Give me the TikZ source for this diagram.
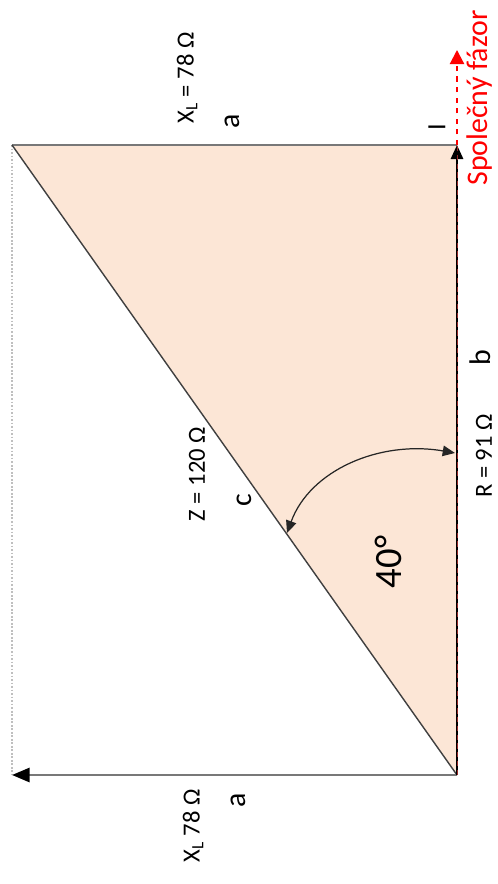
\documentclass[tikz,border=0pt]{standalone}
\usepackage{fontspec}
\setmainfont{Carlito}
\usetikzlibrary{arrows.meta}
\definecolor{peach}{RGB}{252,230,214}
\definecolor{edgegray}{RGB}{120,120,120}
\definecolor{darkred}{RGB}{150,40,40}
\tikzset{
  lbl/.style={rotate=90, inner sep=0pt, font=\fontsize{14}{16}\selectfont},
  letter/.style={rotate=90, inner sep=0pt, font=\fontsize{17}{19}\selectfont},
  tip/.style={-{Triangle[length=8pt,width=7pt]}},
}
\begin{document}
\begin{tikzpicture}[x=0.02cm,y=-0.02cm]
\useasboundingbox (0,0) rectangle (497,884);
\coordinate (A) at (12,145);
\coordinate (B) at (457,145);
\coordinate (C) at (457,775);
\coordinate (D) at (12,775);
\coordinate (P) at (457,50);
\coordinate (E1) at (455,453);
\coordinate (E2) at (287,533);
% fill
\fill[peach] (A) -- (B) -- (C) -- cycle;
% edges
\draw[lightgray, densely dotted, line width=1pt] (A) -- (D);
\draw[edgegray, line width=1.5pt] (A) -- (B);
\draw[black!75, line width=0.8pt] (A) -- (C);
\draw[edgegray, line width=1.5pt, -{Triangle[length=10pt,width=8pt,color=black]}] (C) -- (D);
\draw[black, line width=1.2pt, tip] (C) -- (B);
\draw[darkred, densely dashed, line width=0.4pt] (C) -- (B);
\draw[red, dashed, line width=1.2pt, -{Triangle[length=8pt,width=8pt]}] (B) -- (P);
% angle arc
\draw[black!85, line width=0.7pt, {Triangle[length=7pt,width=6pt]}-{Triangle[length=7pt,width=6pt]}]
  (E2) .. controls (310,470) and (380,440) .. (E1);
% labels
\node[lbl] (xlt) at (187,78) {X\textsubscript{L} = 78 Ω};
\node[letter] (at) at (232,121) {a};
\node[lbl, font=\fontsize{15}{17}\selectfont] (il) at (437,127) {I};
\node[lbl, text=red, font=\fontsize{17}{19}\selectfont] (sf) at (480,98) {Společný fázor};
\node[lbl] (zl) at (197,474) {Z = 120 Ω};
\node[letter] (cl) at (244,500) {c};
\node[lbl, font=\fontsize{22}{24}\selectfont] (ang) at (388,562) {40°};
\node[lbl] (rl) at (484,456) {R = 91 Ω};
\node[letter] (bl) at (480,358) {b};
\node[lbl] (xlb) at (193,826) {X\textsubscript{L} 78 Ω};
\node[letter] (ab) at (238,800) {a};
\end{tikzpicture}
\end{document}
